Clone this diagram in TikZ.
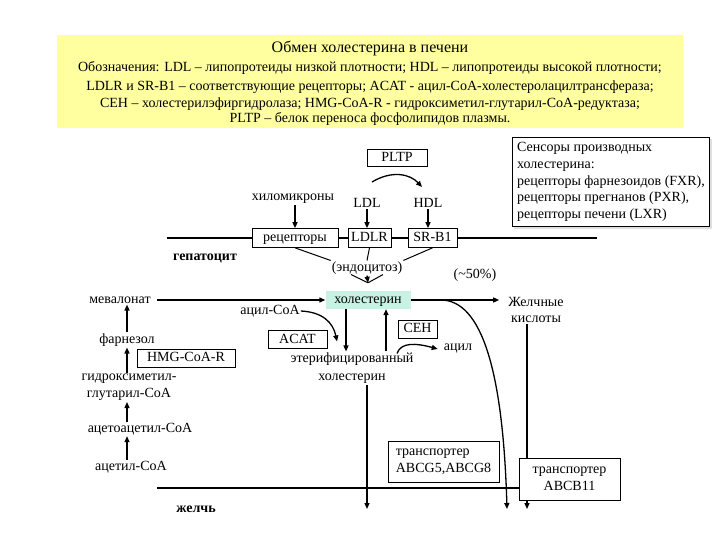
\documentclass[tikz,border=0pt]{standalone}
\usepackage{fontspec}
\setmainfont{Liberation Serif}
\usepackage{xcolor}
\usetikzlibrary{arrows.meta, positioning, calc, shadows}
\definecolor{legyellow}{RGB}{255,255,160}
\definecolor{cholteal}{RGB}{200,242,228}

\begin{document}
\begin{tikzpicture}[x=1pt, y=-1pt, font=\fontsize{14}{17}\selectfont,
  box/.style={draw, fill=white, line width=0.7pt, inner sep=2pt, minimum height=19pt,
    text height=9.5pt, text depth=2pt},
  tallbox/.style={draw, fill=white, line width=0.7pt, inner sep=4pt,
    font=\fontsize{14}{17}\selectfont},
  lbl/.style={inner sep=1pt},
  flow/.style={-{Triangle[length=6pt,width=5pt]}, line width=1.3pt},
  wall/.style={line width=2.6pt},
  tie/.style={line width=1pt}]

  \useasboundingbox (0,0) rectangle (720,540);

  % ── Legend ──
  \node[fill=legyellow, minimum width=626pt, minimum height=93pt, inner sep=0pt] (legend) at (370,81.5) {};
  \node[lbl, font=\fontsize{16}{18}\selectfont] (title) at (370,48) {Обмен холестерина в печени};
  \node[lbl] (leg1) at (370,68) {Обозначения: LDL – липопротеиды низкой плотности; HDL – липопротеиды высокой плотности;};
  \node[lbl] (leg2) at (370,87) {LDLR и SR-B1 – соответствующие рецепторы; ACAT - ацил-CoA-холестеролацилтрансфераза;};
  \node[lbl] (leg3) at (370,104) {CEH – холестерилэфиргидролаза; HMG-CoA-R - гидроксиметил-глутарил-CoA-редуктаза;};
  \node[lbl] (leg4) at (370,119) {PLTP – белок переноса фосфолипидов плазмы.};

  % ── Sensors ──
  \node[draw, fill=white, line width=0.7pt, align=left, inner sep=5pt,
        drop shadow={shadow xshift=2pt, shadow yshift=-2pt, fill=black!25},
        font=\fontsize{14}{16.8}\selectfont] (sensors) at (611,182)
    {Сенсоры производных\\холестерина:\\рецепторы фарнезоидов (FXR),\\рецепторы прегнанов (PXR),\\рецепторы печени (LXR)};

  % ── Plasma side ──
  \node[box, minimum width=60pt, minimum height=17pt] (pltp) at (397,158) {PLTP};
  \node[lbl] (chylo) at (293,199) {хиломикроны};
  \node[lbl] (ldl) at (367,203) {LDL};
  \node[lbl] (hdl) at (428,203) {HDL};
  \draw[flow] (372,182) .. controls (392,170) and (410,174) .. (422,187);

  % ── Membrane ──
  \coordinate (memL) at (167,238);
  \coordinate (memR) at (597,238);
  \node[box, minimum width=86pt] (rec) at (295,238) {рецепторы};
  \node[box, minimum width=43pt] (ldlr) at (369.5,238) {LDLR};
  \node[box, minimum width=49pt] (srb1) at (432.5,238) {SR-B1};
  \draw[wall] (memL) -- (rec.west);
  \draw[wall] (rec.east) -- (ldlr.west);
  \draw[wall] (ldlr.east) -- (srb1.west);
  \draw[wall] (srb1.east) -- (memR);
  \draw[flow] (chylo.south -| rec.north) -- (rec.north);
  \draw[flow] (ldl.south) -- (ldl.south |- ldlr.north);
  \draw[flow] (hdl.south) -- (hdl.south |- srb1.north);
  \node[lbl, font=\fontsize{14}{17}\bfseries] (hep) at (205,258) {гепатоцит};

  % ── Uptake ──
  \node[lbl] (endo) at (367,268) {(эндоцитоз)};
  \node[lbl] (half) at (475,275) {(\textasciitilde50\%)};
  \draw[tie] (rec.south) -- (endo.north west);
  \draw[tie] (ldlr.south) -- (endo.north);
  \draw[tie] (srb1.south) -- (endo.north east);
  \node[fill=cholteal, inner sep=2pt, minimum width=85pt, minimum height=18pt,
        text height=9.5pt, text depth=2pt] (chol) at (368,300) {холестерин};
  \coordinate (endoIn) at ($(chol.north)+(0,-8)$);
  \draw[flow] (endo.south) -- (endoIn);
  \draw[tie] ($(endo.south)+(-16,-1)$) -- (endoIn);
  \draw[tie] ($(endo.south)+(16,-1)$) -- (endoIn);

  % ── Synthesis ──
  \node[lbl] (meva) at (120,300) {мевалонат};
  \node[lbl] (farn) at (127,340) {фарнезол};
  \node[box, minimum width=98pt, minimum height=18pt] (hmgr) at (186,358) {HMG-CoA-R};
  \node[lbl, align=center, font=\fontsize{14}{17}\selectfont] (hmg) at (129,387.5) {гидроксиметил-\\глутарил-CoA};
  \node[lbl] (acac) at (140,429) {ацетоацетил-CoA};
  \node[lbl] (acet) at (131,467) {ацетил-CoA};
  \draw[flow] ([xshift=5pt]meva.east) -- (chol.west);
  \draw[flow] (farn.north) -- (farn.north |- meva.south);
  \draw[flow] (farn |- hmg.north) -- (farn.south);
  \draw[flow] (farn |- acac.north) -- (farn |- hmg.south);
  \draw[flow] (farn |- acet.north) -- (farn |- acac.south);

  % ── Esterification ──
  \node[lbl] (acyl) at (270,311) {ацил-CoA};
  \node[box, minimum width=59pt, minimum height=18pt] (acat) at (297.5,339.5) {ACAT};
  \node[lbl, align=center, font=\fontsize{14}{18}\selectfont] (ester) at (352,368) {этерифицированный\\холестерин};
  \node[box, minimum width=39pt, minimum height=18pt] (ceh) at (417.5,329) {CEH};
  \node[lbl] (acyl2) at (458,349) {ацил};
  \draw[flow] (acyl.east) .. controls (322,312) and (333,322) .. ($(ester.north)+(-15,-10)$);
  \draw[flow] ([xshift=-22pt]chol.south) -- ([xshift=-22pt]chol.south |- ester.north);
  \draw[flow] ([xshift=34pt]ester.north) -- ([xshift=18pt]chol.south);
  \draw[flow] ($(ester.north)+(45,2)$) .. controls (401,342) and (416,343) .. ([xshift=-5pt]acyl2.west);

  % ── Bile ──
  \node[lbl, align=center, font=\fontsize{14}{16}\selectfont] (bacid) at (536,310) {Желчные\\кислоты};
  \draw[flow] (chol.east) -- ([xshift=-8pt]chol.east -| bacid.west);
  \coordinate (cholOut) at (507,509);
  \coordinate (esterOut) at (367,509);
  \coordinate (bacidOut) at (527,509);
  \coordinate (bileL) at (157,488);
  \draw[flow] ([xshift=30pt]chol.east) .. controls (482,300) and (503,372) .. (cholOut);
  \draw[flow] ([xshift=15pt]ester.south) -- (esterOut);
  \draw[flow] ([xshift=-9pt]bacid.south) -- (bacidOut);
  \node[tallbox, align=left, minimum width=111pt, minimum height=41pt] (abcg) at (443.5,461.5) {транспортер\\ABCG5,ABCG8};
  \node[tallbox, align=center, minimum width=101pt, minimum height=42pt] (abcb) at (569.5,479) {транспортер\\ABCB11};
  \draw[wall] (bileL) -- (bileL -| abcb.west);
  \node[lbl, font=\fontsize{14}{17}\bfseries] (bile) at (196,509) {желчь};

\end{tikzpicture}
\end{document}
